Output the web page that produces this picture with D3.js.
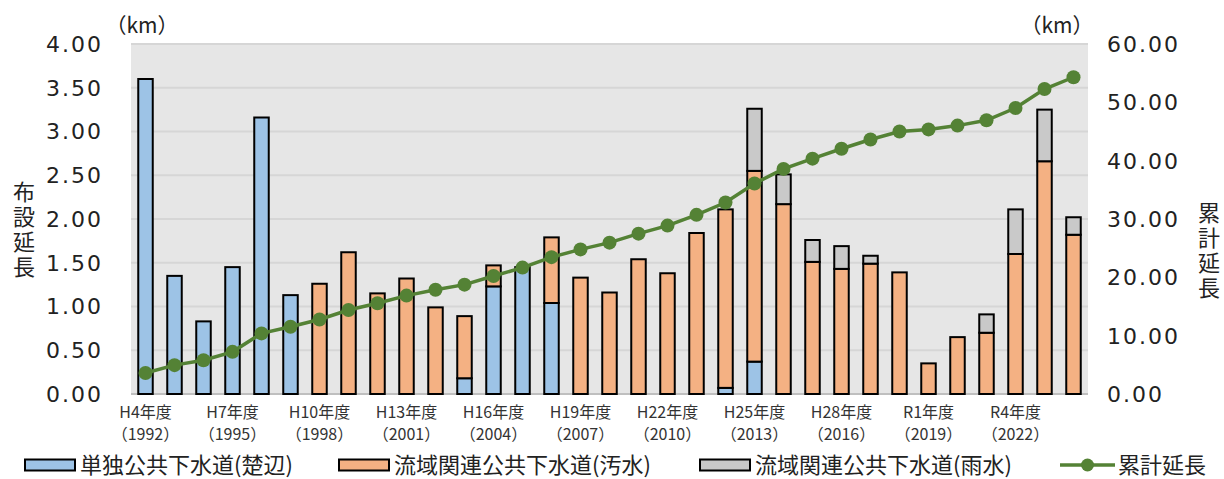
<!DOCTYPE html>
<html>
<head>
<meta charset="utf-8">
<script src="https://cdn.jsdelivr.net/npm/d3@7"></script>
<style>
  body { margin: 0; background: #fff; }
  svg { display: block; }
</style>
</head>
<body>
<div id="chart"></div>
<script>
//fiscal years (category per year)
var years = d3.range(1992, 2025);

//yearly length (km) per series
var tanDoku = [3.60, 1.35, 0.83, 1.45, 3.16, 1.13, 0, 0, 0, 0,
               0, 0.18, 1.23, 1.45, 1.04, 0, 0, 0, 0, 0,
               0.07, 0.37, 0, 0, 0, 0, 0, 0, 0, 0,
               0, 0, 0];
var osui = [0, 0, 0, 0, 0, 0, 1.26, 1.62, 1.15, 1.32,
            0.99, 0.71, 0.24, 0, 0.75, 1.33, 1.16, 1.54, 1.38, 1.84,
            2.04, 2.18, 2.17, 1.51, 1.43, 1.49, 1.39, 0.35, 0.65, 0.70,
            1.60, 2.66, 1.82];
var usui = [0, 0, 0, 0, 0, 0, 0, 0, 0, 0,
            0, 0, 0, 0, 0, 0, 0, 0, 0, 0,
            0, 0.71, 0.34, 0.25, 0.26, 0.09, 0, 0, 0, 0.21,
            0.51, 0.59, 0.20];
//cumulative length (km)
var ruikei = [3.60, 4.95, 5.78, 7.23, 10.39, 11.52, 12.78, 14.40, 15.55, 16.87,
              17.86, 18.75, 20.22, 21.67, 23.46, 24.79, 25.95, 27.49, 28.87, 30.71,
              32.82, 36.08, 38.59, 40.35, 42.04, 43.62, 45.01, 45.36, 46.01, 46.92,
              49.03, 52.28, 54.30];

//x tick labels (every 3 years)
var tickYears = [1992, 1995, 1998, 2001, 2004, 2007, 2010, 2013, 2016, 2019, 2022];
var tickNames = ["H4年度", "H7年度", "H10年度", "H13年度", "H16年度", "H19年度",
                 "H22年度", "H25年度", "H28年度", "R1年度", "R4年度"];

var seriesKeys = ["tandoku", "osui", "usui"];
var seriesNames = ["単独公共下水道(楚辺)", "流域関連公共下水道(汚水)", "流域関連公共下水道(雨水)", "累計延長"];
var colors = {tandoku: "#9dc3e6", osui: "#f4b183", usui: "#c9c9c9", line: "#548235"};

var width = 1224, height = 479;
var plot = {left: 131, right: 1088, top: 44, bottom: 394};
var numFont = "'DejaVu Sans', sans-serif";
var jpFont = "'Noto Sans CJK JP', sans-serif";

//build table for stacking
var table = years.map(function(y, i) {
    return {year: y, tandoku: tanDoku[i], osui: osui[i], usui: usui[i], total: ruikei[i]};
});

const svg = d3.select("#chart").append("svg")
    .attr("width", width)
    .attr("height", height);

//scales
const x = d3.scaleBand()
    .domain(years)
    .range([plot.left, plot.right])
    .paddingInner(0.5)
    .paddingOuter(0.25);

const yLeft = d3.scaleLinear().domain([0, 4]).range([plot.bottom, plot.top]);
const yRight = d3.scaleLinear().domain([0, 60]).range([plot.bottom, plot.top]);

//plot background
svg.append("rect")
    .attr("x", plot.left)
    .attr("y", plot.top)
    .attr("width", plot.right - plot.left)
    .attr("height", plot.bottom - plot.top)
    .attr("fill", "#e6e6e6");

//gridlines
svg.append("g").selectAll("line")
    .data(yLeft.ticks(8))
    .enter().append("line")
    .attr("x1", plot.left)
    .attr("x2", plot.right)
    .attr("y1", function(d){ return yLeft(d); })
    .attr("y2", function(d){ return yLeft(d); })
    .attr("stroke", function(d){ return d === 0 ? "#bfbfbf" : "#d6d6d6"; })
    .attr("stroke-width", 2);

//left axis labels
svg.append("g").selectAll("text")
    .data(yLeft.ticks(8))
    .enter().append("text")
    .attr("x", 103)
    .attr("y", function(d){ return yLeft(d); })
    .attr("dy", "0.36em")
    .attr("text-anchor", "end")
    .attr("font-family", numFont)
    .attr("font-size", "22px")
    .attr("letter-spacing", "2px")
    .attr("fill", "#222")
    .text(function(d){ return d3.format(".2f")(d); });

//right axis labels
svg.append("g").selectAll("text")
    .data(yRight.ticks(6))
    .enter().append("text")
    .attr("x", 1107)
    .attr("y", function(d){ return yRight(d); })
    .attr("dy", "0.36em")
    .attr("font-family", numFont)
    .attr("font-size", "22px")
    .attr("letter-spacing", "2px")
    .attr("fill", "#222")
    .text(function(d){ return d3.format(".2f")(d); });

//unit labels
svg.append("text").attr("x", 142).attr("y", 25).attr("dy", "0.36em")
    .attr("text-anchor", "middle").attr("font-family", jpFont).attr("font-size", "21px")
    .attr("fill", "#222").text("（km）");
svg.append("text").attr("x", 1057).attr("y", 25).attr("dy", "0.36em")
    .attr("text-anchor", "middle").attr("font-family", jpFont).attr("font-size", "21px")
    .attr("fill", "#222").text("（km）");

//vertical axis titles
function verticalTitle(str, cx, topY) {
    svg.append("text")
        .attr("x", cx)
        .attr("y", topY)
        .attr("font-family", jpFont)
        .attr("font-size", "22px")
        .attr("letter-spacing", "3px")
        .attr("fill", "#222")
        .style("writing-mode", "vertical-rl")
        .text(str);
}
verticalTitle("布設延長", 24, 181);
verticalTitle("累計延長", 1209, 202);

//stacked bars
const stacked = d3.stack().keys(seriesKeys)(table);

const layers = svg.append("g").selectAll("g")
    .data(stacked)
    .enter().append("g")
    .attr("fill", function(d){ return colors[d.key]; });

layers.selectAll("rect")
    .data(function(d){ return d.filter(function(p){ return p[1] - p[0] > 0; }); })
    .enter().append("rect")
    .attr("x", function(d){ return x(d.data.year); })
    .attr("y", function(d){ return yLeft(d[1]); })
    .attr("width", x.bandwidth())
    .attr("height", function(d){ return yLeft(d[0]) - yLeft(d[1]); })
    .attr("stroke", "#000")
    .attr("stroke-width", 2);

//cumulative line
const line = d3.line()
    .x(function(d){ return x(d.year) + x.bandwidth() / 2; })
    .y(function(d){ return yRight(d.total); });

svg.append("path")
    .datum(table)
    .attr("d", line)
    .attr("fill", "none")
    .attr("stroke", colors.line)
    .attr("stroke-width", 3.5);

svg.append("g").selectAll("circle")
    .data(table)
    .enter().append("circle")
    .attr("cx", function(d){ return x(d.year) + x.bandwidth() / 2; })
    .attr("cy", function(d){ return yRight(d.total); })
    .attr("r", 7)
    .attr("fill", colors.line);

//x labels
const xl = svg.append("g").selectAll("g")
    .data(tickYears)
    .enter().append("g")
    .attr("transform", function(d){ return "translate(" + (x(d) + x.bandwidth() / 2) + ",0)"; });

xl.append("text")
    .attr("y", 412)
    .attr("dy", "0.36em")
    .attr("text-anchor", "middle")
    .attr("font-family", jpFont)
    .attr("font-size", "16px")
    .attr("fill", "#333")
    .text(function(d, i){ return tickNames[i]; });

xl.append("text")
    .attr("y", 434)
    .attr("dy", "0.36em")
    .attr("text-anchor", "middle")
    .attr("font-family", jpFont)
    .attr("font-size", "16px")
    .attr("fill", "#333")
    .text(function(d){ return "（" + d + "）"; });

//legend
var legendX = [25, 339, 700, 1060];
var legendY = 465;
const legend = svg.append("g");

seriesKeys.forEach(function(k, i) {
    legend.append("rect")
        .attr("x", legendX[i])
        .attr("y", legendY - 5.5)
        .attr("width", 50)
        .attr("height", 11)
        .attr("fill", colors[k])
        .attr("stroke", "#000")
        .attr("stroke-width", 2);
    legend.append("text")
        .attr("x", legendX[i] + 55)
        .attr("y", legendY)
        .attr("dy", "0.36em")
        .attr("font-family", jpFont)
        .attr("font-size", "22px")
        .attr("fill", "#222")
        .text(seriesNames[i]);
});

legend.append("line")
    .attr("x1", legendX[3]).attr("x2", legendX[3] + 55)
    .attr("y1", legendY).attr("y2", legendY)
    .attr("stroke", colors.line).attr("stroke-width", 3.5);
legend.append("circle")
    .attr("cx", legendX[3] + 27.5).attr("cy", legendY).attr("r", 6.5)
    .attr("fill", colors.line);
legend.append("text")
    .attr("x", legendX[3] + 58)
    .attr("y", legendY)
    .attr("dy", "0.36em")
    .attr("font-family", jpFont)
    .attr("font-size", "22px")
    .attr("fill", "#222")
    .text(seriesNames[3]);
</script>
</body>
</html>
